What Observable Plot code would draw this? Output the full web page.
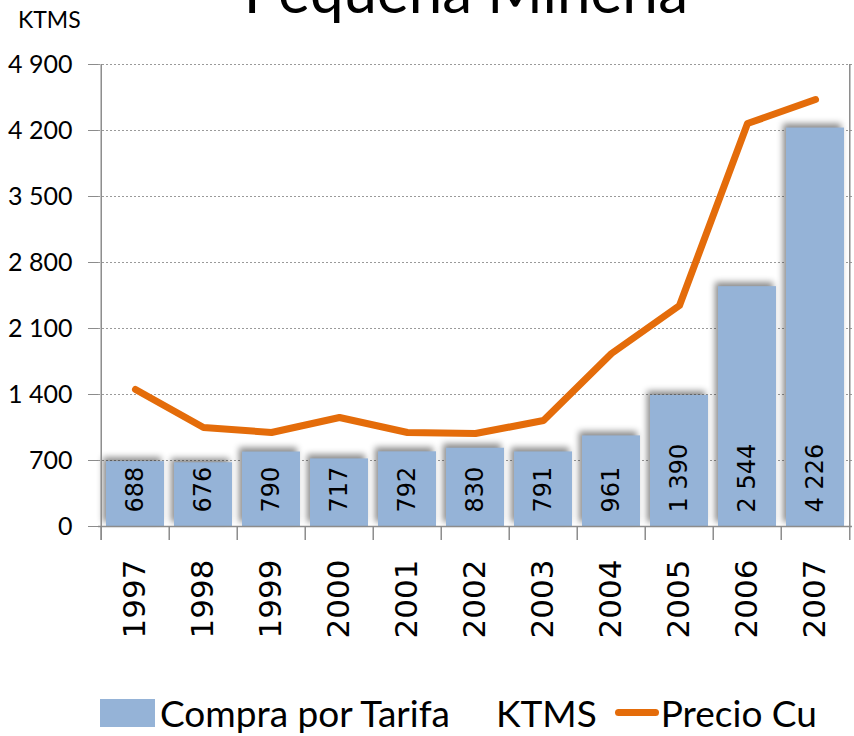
<!DOCTYPE html>
<html>
<head>
<meta charset="utf-8">
<script src="https://cdn.jsdelivr.net/npm/d3@7"></script>
<script src="https://cdn.jsdelivr.net/npm/@observablehq/plot@0.6"></script>
<style>
  html, body { margin: 0; padding: 0; background: #fff; overflow: hidden; }
  #wrap { position: relative; width: 854px; height: 736px; overflow: hidden; }
  #title { position: absolute; left: 0; width: 932px; text-align: center; top: -40px; font: 60px/60px Lato, "Open Sans", sans-serif; color: #000; white-space: nowrap; }
  #unit { position: absolute; left: 18px; top: 5px; font: 23px Lato, sans-serif; color: #000; }
  #chart { position: absolute; left: 0; top: 0; }
  #legend { position: absolute; left: 100px; top: 690px; display: flex; align-items: center; font: 37px Lato, sans-serif; color: #000; white-space: nowrap; }
  .sw-bar { width: 55px; height: 28px; background: #95B3D7; margin-right: 5px; }
  .sw-line { width: 44px; height: 7px; background: #E46C0A; border-radius: 4px; margin-right: 2px; }
  g[aria-label="bar"] rect { filter: drop-shadow(-3px -4px 3px rgba(0,0,0,0.45)); }
</style>
</head>
<body>
<div id="wrap">
  <div id="chart"></div>
  <div id="title">Pequeña Minería</div>
  <div id="unit">KTMS</div>
  <div id="legend">
    <div class="sw-bar"></div><span>Compra por Tarifa</span><span style="margin-left:46px;margin-right:18px">KTMS</span>
    <div class="sw-line"></div><span>Precio Cu</span>
  </div>
</div>
<script>
// Data
const years = ["1997","1998","1999","2000","2001","2002","2003","2004","2005","2006","2007"];
const compraTarifa = [688, 676, 790, 717, 792, 830, 791, 961, 1390, 2544, 4226];
const precioCu = [1453, 1050, 997, 1156, 997, 986, 1124, 1835, 2344, 4274, 4529];
const yTicks = [0, 700, 1400, 2100, 2800, 3500, 4200, 4900];

const data = years.map((y, i) => ({year: y, compra: compraTarifa[i], precio: precioCu[i]}));
const loc = d3.formatLocale({decimal: ",", thousands: " ", grouping: [3], currency: ["", ""]});
const fmt = loc.format(",d");

const W = 854, H = 660, mL = 98, mR = 2, mT = 64, mB = 134;
const bw = (W - mL - mR) / years.length;
const gray = "#8c8c8c";

const chart = Plot.plot({
  width: W, height: H,
  marginLeft: mL, marginRight: mR, marginTop: mT, marginBottom: mB,
  style: {background: "transparent", overflow: "visible"},
  x: {type: "band", domain: years, padding: 0, axis: null, label: null},
  y: {domain: [0, 4900], axis: null, label: null},
  marks: [
    Plot.gridY(yTicks.filter(d => d > 0), {stroke: "#9a9a9a", strokeOpacity: 1, strokeDasharray: "2,2", strokeWidth: 1}),
    Plot.axisY({ticks: yTicks, tickFormat: fmt, tickSize: 10, tickPadding: 16, stroke: gray, fontSize: 25, fontFamily: "Lato, sans-serif", fill: "#000", label: null}),
    Plot.axisX({tickSize: 0, tickRotate: -90, tickPadding: 33, fontSize: 31, fontFamily: "DejaVu Sans, sans-serif", fill: "#000", label: null}),
    Plot.barY(data, {x: "year", y: "compra", fill: "#95B3D7", insetLeft: 5, insetRight: 5}),
    Plot.text(data, {x: "year", y: 0, text: d => fmt(d.compra), rotate: -90, textAnchor: "start", dy: -14, fontSize: 24, fontFamily: "DejaVu Sans, sans-serif", fill: "#000"}),
    Plot.ruleY([0], {stroke: gray, strokeWidth: 1.5}),
    Plot.ruleX(years, {x: d => d, y1: 0, y2: 0, dx: -bw / 2, insetBottom: -14, stroke: gray, strokeWidth: 1.5}),
    Plot.ruleX([years[0]], {x: d => d, y1: 4900, y2: 0, dx: -bw / 2, insetBottom: -14, stroke: gray, strokeWidth: 1.5}),
    Plot.ruleX([years[years.length - 1]], {x: d => d, y1: 4900, y2: 0, dx: bw / 2, insetBottom: -14, stroke: gray, strokeWidth: 1.5}),
    Plot.line(data, {x: "year", y: "precio", stroke: "#E46C0A", strokeWidth: 7, strokeLinejoin: "round", strokeLinecap: "round"})
  ]
});
document.getElementById("chart").appendChild(chart);
</script>
</body>
</html>
